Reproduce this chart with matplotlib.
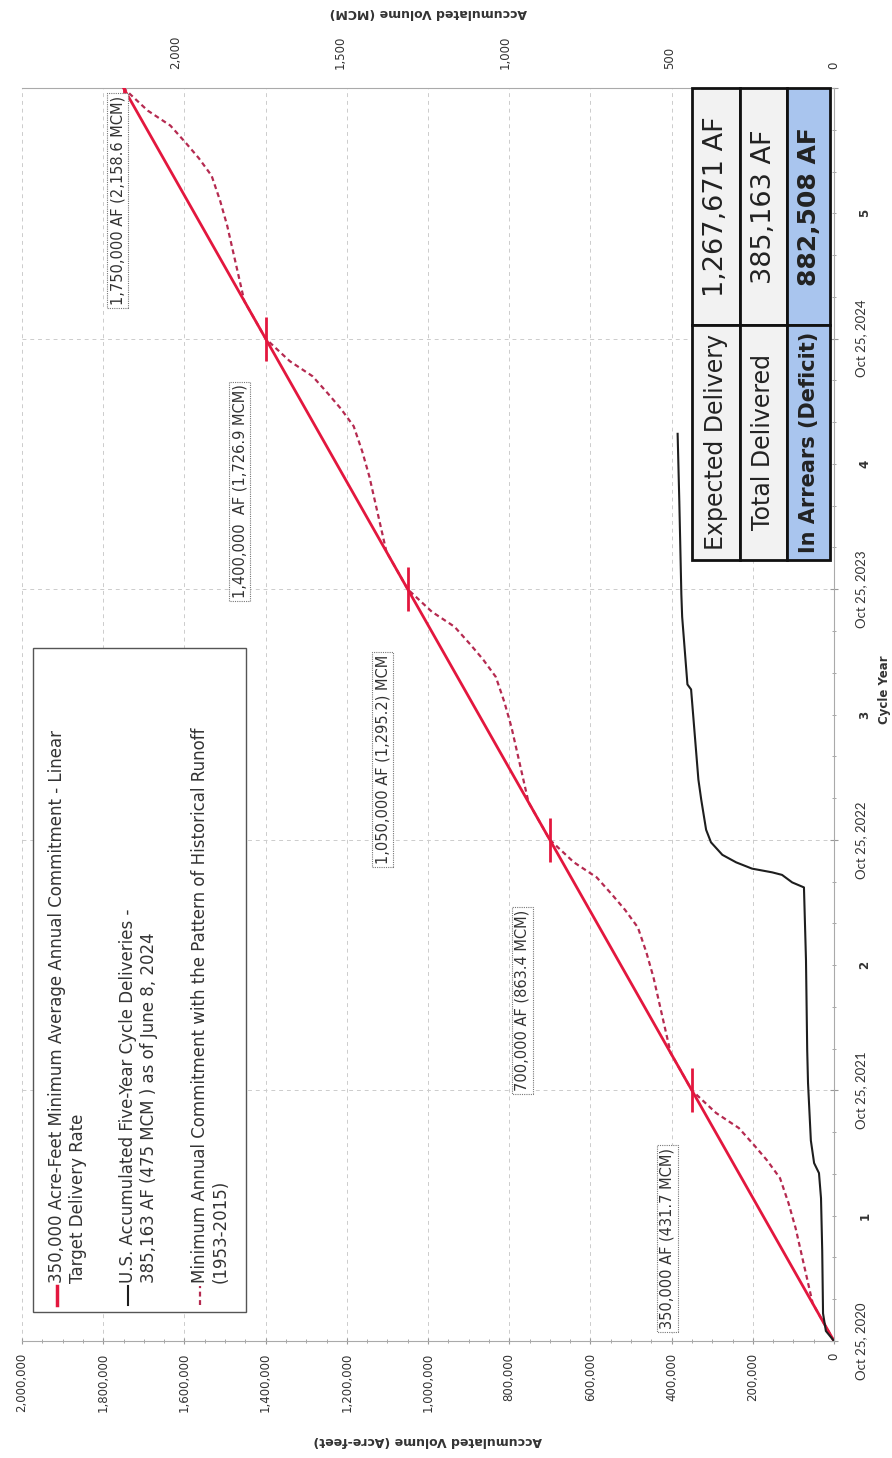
import numpy as np
import matplotlib
matplotlib.use("Agg")
import matplotlib.pyplot as plt
from matplotlib.patches import Rectangle
from matplotlib.lines import Line2D
from matplotlib.ticker import FuncFormatter, MultipleLocator

# chart is drawn rotated 90 deg: acre-feet runs right->left, cycle years run bottom->top

AF_TO_MCM = 0.00123348

# linear target, years since Oct 25, 2020
linear_t = [0, 5]
linear_af = [0, 1750000]
mark_t = [1, 2, 3, 4, 5]
mark_af = [350000, 700000, 1050000, 1400000, 1750000]

# minimum annual commitment with historical runoff pattern
runoff_t = [0, 0.15, 0.30, 0.45, 0.55, 0.65, 0.72, 0.78, 0.85, 0.91, 1.0,
            1.15, 1.30, 1.45, 1.55, 1.65, 1.72, 1.78, 1.85, 1.91, 2.0,
            2.15, 2.30, 2.45, 2.55, 2.65, 2.72, 2.78, 2.85, 2.91, 3.0,
            3.15, 3.30, 3.45, 3.55, 3.65, 3.72, 3.78, 3.85, 3.91, 4.0,
            4.15, 4.30, 4.45, 4.55, 4.65, 4.72, 4.78, 4.85, 4.91, 5.0]
runoff_af = [0, 52500, 73500, 94500, 112000, 133000, 164500, 196000, 234500, 290500, 350000,
             402500, 423500, 444500, 462000, 483000, 514500, 546000, 584500, 640500, 700000,
             752500, 773500, 794500, 812000, 833000, 864500, 896000, 934500, 990500, 1050000,
             1102500, 1123500, 1144500, 1162000, 1183000, 1214500, 1246000, 1284500, 1340500, 1400000,
             1452500, 1473500, 1494500, 1512000, 1533000, 1564500, 1596000, 1634500, 1690500, 1750000]

# U.S. accumulated deliveries up to June 8, 2024
us_t = [0, 0.04, 0.11, 0.36, 0.57, 0.67, 0.71, 0.80, 1.03, 1.16, 1.52, 1.81, 1.83, 1.86,
        1.87, 1.885, 1.91, 1.94, 1.99, 2.04, 2.16, 2.24, 2.44, 2.60, 2.62, 2.89, 2.98, 3.35, 3.62]
us_af = [0, 20000, 27000, 29000, 32000, 37000, 49000, 57000, 64000, 66000, 69000, 74000, 103000, 128000,
         152000, 202000, 241000, 275000, 303000, 315000, 327000, 334000, 344000, 352000, 361000, 374000,
         376000, 381000, 385163]

date_labels = ["Oct 25, 2020", "Oct 25, 2021", "Oct 25, 2022", "Oct 25, 2023", "Oct 25, 2024"]
cycle_labels = ["1", "2", "3", "4", "5"]

ann_text = ["350,000 AF (431.7 MCM)", "700,000 AF (863.4 MCM)", "1,050,000 AF (1,295.2) MCM",
            "1,400,000  AF (1,726.9 MCM)", "1,750,000 AF (2,158.6 MCM)"]
ann_af = [411000, 768000, 1112000, 1464000, 1764000]
ann_t = [0.41, 1.36, 2.32, 3.39, 4.55]

table_labels = ["Expected Delivery", "Total Delivered", "In Arrears (Deficit)"]
table_values = ["1,267,671 AF", "385,163 AF", "882,508 AF"]

legend_labels = [["350,000 Acre-Feet Minimum Average Annual Commitment - Linear", "Target Delivery Rate"],
                 ["U.S. Accumulated Five-Year Cycle Deliveries -", "385,163 AF (475 MCM ) as of June 8, 2024"],
                 ["Minimum Annual Commitment with the Pattern of Historical Runoff", "(1953-2015)"]]

RED = "#e3173e"
DASH = "#b52a50"
TXT = "#333333"
W, H = 892, 1458


def fx(px):
    return px / W


def fy(py):
    return 1 - py / H


fig = plt.figure(figsize=(W / 100, H / 100), dpi=100)
ax = fig.add_axes([fx(22), fy(1341), fx(834) - fx(22), fy(88) - fy(1341)])

ax.plot(runoff_af, runoff_t, color=DASH, lw=1.6, ls=(0, (2.2, 1.6)), zorder=3)
ax.plot(linear_af, linear_t, color=RED, lw=2.0, zorder=4)
ax.plot(mark_af, mark_t, ls="none", marker="|", ms=31, mew=2.0, color=RED, zorder=4)
ax.plot(us_af, us_t, color="#1e1e1e", lw=1.5, zorder=4)

ax.set_xlim(2000000, 0)
ax.set_ylim(0, 5)

# acre-feet axis (bottom of picture)
ax.xaxis.set_major_locator(MultipleLocator(200000))
ax.xaxis.set_minor_locator(MultipleLocator(50000))
ax.xaxis.set_major_formatter(FuncFormatter(lambda v, p: f"{v:,.0f}"))
ax.tick_params(axis="x", which="both", labelrotation=90, labelsize=8.5, colors="#999999",
               labelcolor=TXT, direction="inout", pad=6)
ax.tick_params(axis="x", which="major", length=5)
ax.tick_params(axis="x", which="minor", length=3)

# time axis (right side of picture)
ax.yaxis.tick_right()
ax.set_yticks(range(6))
ax.set_yticklabels(date_labels + [""], rotation=90, va="center", family="Lato", fontsize=9.5)
ax.yaxis.set_minor_locator(MultipleLocator(1 / 6))
ax.tick_params(axis="y", which="both", colors="#999999", labelcolor=TXT, direction="inout", pad=12)
ax.tick_params(axis="y", which="major", length=6)
ax.tick_params(axis="y", which="minor", length=3)
for i, lab in enumerate(cycle_labels):
    ax.text(1.038, i + 0.5, lab, transform=ax.get_yaxis_transform(), rotation=90,
            ha="center", va="center", fontsize=8.5, fontweight="bold", color=TXT)
ax.text(1.062, 0.52, "Cycle Year", transform=ax.transAxes, rotation=90, ha="center", va="center",
        fontsize=8.5, fontweight="bold", color=TXT)

ax.grid(True, which="major", color="#cccccc", ls=(0, (4, 4)), lw=0.7)
for s in ["top", "right", "bottom"]:
    ax.spines[s].set_color("#aaaaaa")
    ax.spines[s].set_linewidth(0.8)
ax.spines["left"].set_visible(False)

# MCM axis (top of picture)
sec = ax.secondary_xaxis("top", functions=(lambda a: a * AF_TO_MCM, lambda m: m / AF_TO_MCM))
sec.set_xticks([0, 500, 1000, 1500, 2000])
sec.xaxis.set_major_formatter(FuncFormatter(lambda v, p: f"{v:,.0f}"))
sec.tick_params(labelrotation=90, labelsize=8.5, labelcolor=TXT, length=0, pad=14)
sec.spines["top"].set_visible(False)

fig.text(0.5 * (fx(22) + fx(834)), fy(1440), "Accumulated Volume (Acre-feet)", rotation=180,
         ha="center", va="center", fontsize=9, color=TXT, fontweight="bold")
fig.text(0.5 * (fx(22) + fx(834)), fy(13), "Accumulated Volume (MCM)", rotation=180,
         ha="center", va="center", fontsize=9, color=TXT, fontweight="bold")

# value callouts
for s, a, t in zip(ann_text, ann_af, ann_t):
    ax.text(a, t, s, rotation=90, ha="center", va="center", fontsize=10.5, color=TXT, zorder=5,
            bbox=dict(boxstyle="square,pad=0.2", fc="white", ec="#777777", lw=0.8, ls=(0, (1, 1))))

# legend drawn by hand so it can sit sideways
fig.add_artist(Rectangle((fx(33), fy(1312)), fx(246) - fx(33), fy(648) - fy(1312),
                         transform=fig.transFigure, fc="white", ec="#555555", lw=1.0, zorder=6))
leg_x = [57, 128, 200]
leg_styles = [dict(color=RED, lw=2.5), dict(color="#1e1e1e", lw=1.5),
              dict(color=DASH, lw=1.6, ls=(0, (2.2, 1.6)))]
for x, st, lines in zip(leg_x, leg_styles, legend_labels):
    fig.add_artist(Line2D([fx(x), fx(x)], [fy(1305), fy(1286)], transform=fig.transFigure, zorder=7, **st))
    for k, line in enumerate(lines):
        fig.text(fx(x + 21 * k), fy(1283), line, rotation=90, rotation_mode="anchor", ha="left",
                 va="center", fontsize=12, color=TXT, zorder=7)

# summary table
col_x = [692, 740, 787, 830]
split_y = 325
cell_fc = ["#f2f2f2", "#f2f2f2", "#a9c5ee"]
label_fs = [17, 17, 15]
value_fs = [19.5, 19.5, 18]
for i in range(3):
    for y0, y1 in [(88, split_y), (split_y, 560)]:
        fig.add_artist(Rectangle((fx(col_x[i]), fy(y1)), fx(col_x[i + 1]) - fx(col_x[i]), fy(y0) - fy(y1),
                                 transform=fig.transFigure, fc=cell_fc[i], ec="#111111", lw=2.0, zorder=6))
    cx = fx(0.5 * (col_x[i] + col_x[i + 1]))
    wt = "bold" if i == 2 else "normal"
    fig.text(cx, fy(0.5 * (split_y + 560)), table_labels[i], rotation=90, ha="center", va="center",
             fontsize=label_fs[i], fontweight=wt, color="#222222", zorder=7)
    fig.text(cx, fy(0.5 * (88 + split_y)), table_values[i], rotation=90, ha="center", va="center",
             fontsize=value_fs[i], fontweight=wt, color="#222222", zorder=7)

fig.savefig("out.png", dpi=100)
